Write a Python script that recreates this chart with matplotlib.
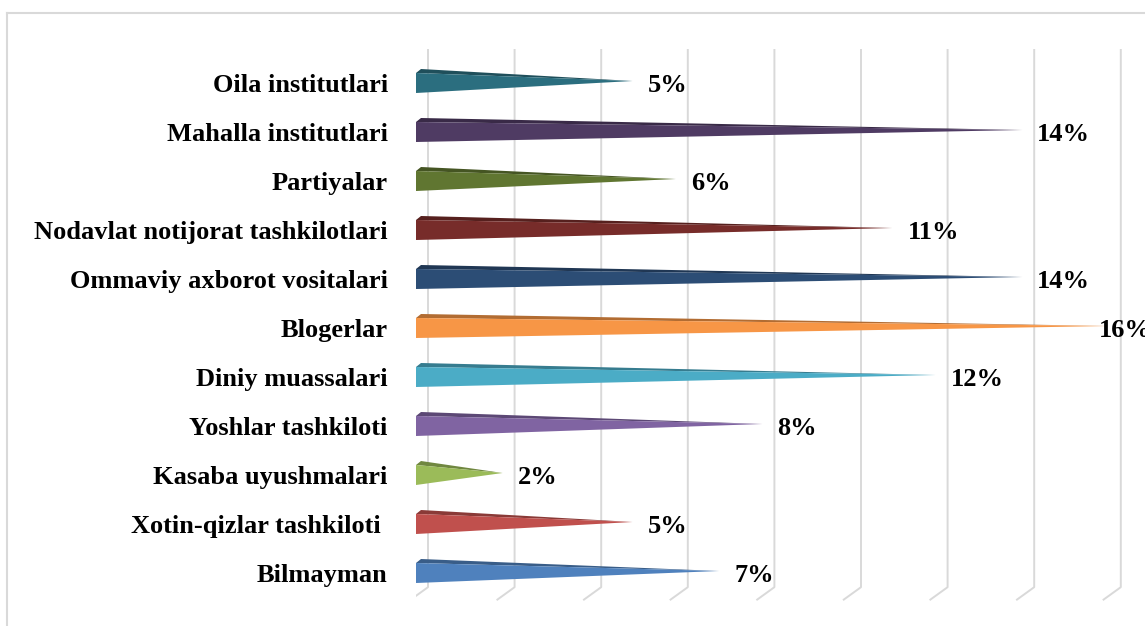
import matplotlib
matplotlib.use("Agg")
import matplotlib.pyplot as plt
from matplotlib.patches import Polygon
from matplotlib.lines import Line2D
import matplotlib.colors as mcolors

# data, top to bottom as in the picture
categories = ["Oila institutlari", "Mahalla institutlari", "Partiyalar",
              "Nodavlat notijorat tashkilotlari", "Ommaviy axborot vositalari",
              "Blogerlar", "Diniy muassalari", "Yoshlar tashkiloti",
              "Kasaba uyushmalari", "Xotin-qizlar tashkiloti ", "Bilmayman"]
values = [5, 14, 6, 11, 14, 16, 12, 8, 2, 5, 7]
colors = ["#2b6e7f", "#4f3b63", "#607631", "#772c2a", "#2c4d75", "#f79646",
          "#4bacc6", "#8064a2", "#9bbb59", "#c0504d", "#4f81bd"]
grid_ticks = [0, 2, 4, 6, 8, 10, 12, 14, 16]

W, H = 1145, 626
fig = plt.figure(figsize=(W / 100, H / 100), dpi=100)
px_per_pct = 43.3
row_px = 49.0
x0_px, row0_px = 416, 81
ax = fig.add_axes([x0_px / W, 0, (W - x0_px) / W, 1])
ax.set_xlim(0, (W - x0_px) / px_per_pct)
ax.set_ylim((H - row0_px) / row_px, -row0_px / row_px)
ax.axis("off")

# 3D depth offsets (in data units)
dx = 12 / px_per_pct
dy = 13 / row_px

# gridlines on the back wall plus a slanted foot on the floor
g_top, g_bot = -0.653, 10.33
for t in grid_ticks:
    ax.plot([t + dx, t + dx, t - 6 / px_per_pct], [g_top, g_bot, g_bot + dy],
            color="#d9d9d9", lw=1.4, solid_capstyle="butt", zorder=1)

# cone/pyramid bars
for i, (v, c) in enumerate(zip(values, colors)):
    top_back = i - 12 / row_px
    top_front = i - 8 / row_px
    bottom = i + 12 / row_px
    dark = [ch * 0.72 for ch in mcolors.to_rgb(c)]
    ax.add_patch(Polygon([(0, top_front), (5 / px_per_pct, top_back), (v, i)],
                         closed=True, facecolor=dark, edgecolor="none", zorder=3))
    ax.add_patch(Polygon([(0, top_front), (0, bottom), (v, i)],
                         closed=True, facecolor=c, edgecolor="none", zorder=4))
    lx = min(v + 0.35, 15.77)
    ax.text(lx, i + 0.09, f"{v}%", ha="left", va="center", fontsize=19,
            fontweight="bold", family="Liberation Serif", zorder=5, clip_on=False)
    ax.text(-0.65, i + 0.09, categories[i], ha="right", va="center", fontsize=19,
            fontweight="bold", family="Liberation Serif", clip_on=False)

# light chart frame
fig.add_artist(Line2D([7 / W, 7 / W], [0, 1 - 13 / H], color="#d9d9d9", lw=1.5))
fig.add_artist(Line2D([7 / W, 1], [1 - 13 / H, 1 - 13 / H], color="#d9d9d9", lw=1.5))

fig.savefig("out.png", dpi=100)
